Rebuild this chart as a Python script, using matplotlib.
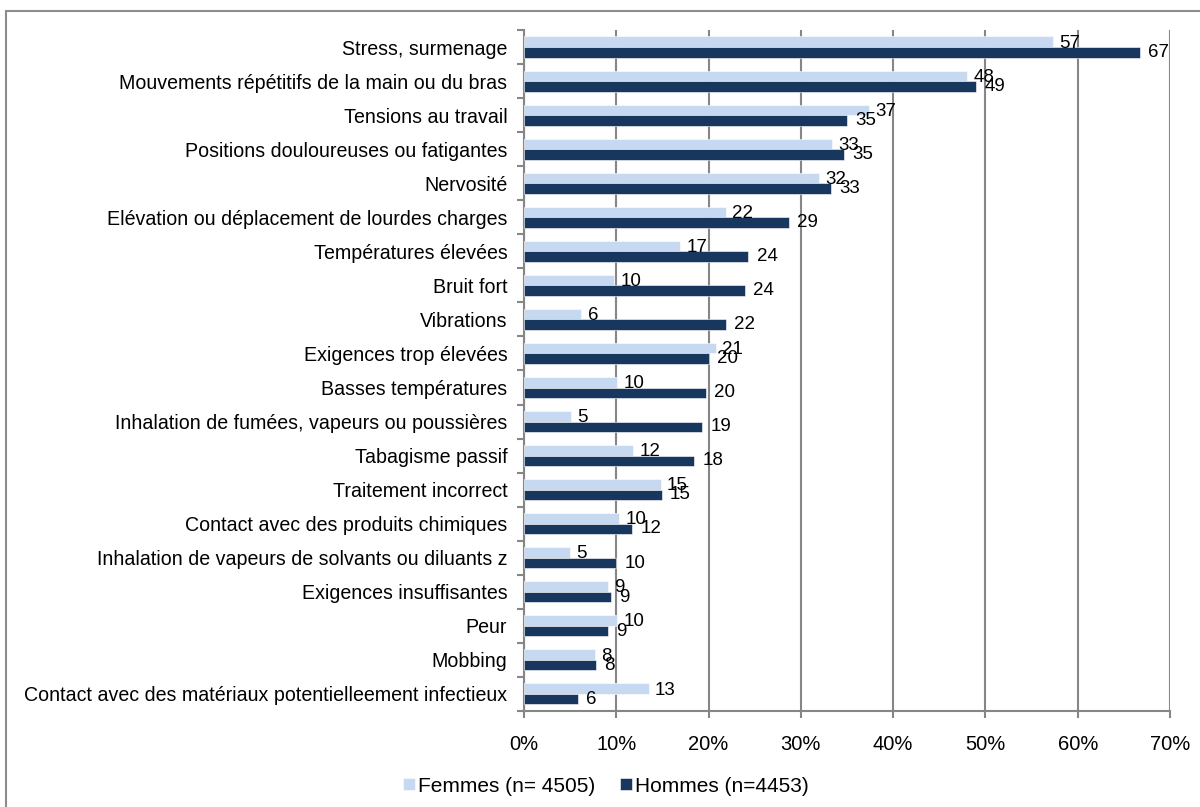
import matplotlib
matplotlib.use("Agg")
import matplotlib.pyplot as plt
import numpy as np
from matplotlib.patches import Rectangle
from matplotlib.ticker import FixedLocator, PercentFormatter

plt.rcParams['font.family'] = ['Liberation Sans', 'DejaVu Sans']

categories = [
    "Stress, surmenage",
    "Mouvements répétitifs de la main ou du bras",
    "Tensions au travail",
    "Positions douloureuses ou fatigantes",
    "Nervosité",
    "Elévation ou déplacement de lourdes charges",
    "Températures élevées",
    "Bruit fort",
    "Vibrations",
    "Exigences trop élevées",
    "Basses températures",
    "Inhalation de fumées, vapeurs ou poussières",
    "Tabagisme passif",
    "Traitement incorrect",
    "Contact avec des produits chimiques",
    "Inhalation de vapeurs de solvants ou diluants z",
    "Exigences insuffisantes",
    "Peur",
    "Mobbing",
    "Contact avec des matériaux potentielleement infectieux",
]
femmes = [57.3, 48.0, 37.4, 33.4, 32.0, 21.9, 16.9, 9.8, 6.2, 20.8,
          10.1, 5.1, 11.8, 14.8, 10.3, 5.0, 9.1, 10.1, 7.7, 13.5]
hommes = [66.7, 49.0, 35.0, 34.7, 33.3, 28.7, 24.3, 23.9, 21.9, 20.0,
          19.7, 19.3, 18.4, 14.9, 11.7, 10.0, 9.4, 9.1, 7.8, 5.8]
femmes_labels = [57, 48, 37, 33, 32, 22, 17, 10, 6, 21, 10, 5, 12, 15, 10, 5, 9, 10, 8, 13]
hommes_labels = [67, 49, 35, 35, 33, 29, 24, 24, 22, 20, 20, 19, 18, 15, 12, 10, 9, 9, 8, 6]
legend_labels = ["Femmes (n= 4505)", "Hommes (n=4453)"]
xticks = [0, 10, 20, 30, 40, 50, 60, 70]

c_light = "#C6D9F1"
c_dark = "#17375E"
c_grid = "#868686"

fig = plt.figure(figsize=(12, 8.07), dpi=100)
ax = fig.add_axes([0.4367, 0.1190, 0.5383, 0.8438])

n = len(categories)
y = np.arange(n)
h = 0.31
bf = ax.barh(y - h / 2, femmes, height=h, color=c_light, edgecolor="white", linewidth=0.4, zorder=3, label=legend_labels[0])
bh = ax.barh(y + h / 2, hommes, height=h, color=c_dark, edgecolor="white", linewidth=0.4, zorder=3, label=legend_labels[1])

for i in range(n):
    ax.annotate(str(femmes_labels[i]), (femmes[i], y[i] - h / 2), xytext=(4.5, -1),
                textcoords="offset points", va="center", ha="left", fontsize=13.5, color="black", zorder=4)
    ax.annotate(str(hommes_labels[i]), (hommes[i], y[i] + h / 2), xytext=(6, 0),
                textcoords="offset points", va="center", ha="left", fontsize=13.5, color="black", zorder=4)

ax.set_ylim(n - 0.5, -0.5)
ax.set_xlim(0, 70)
ax.set_yticks(y)
ax.set_yticklabels(categories, fontsize=14.1)
ax.yaxis.set_minor_locator(FixedLocator(np.arange(-0.5, n, 1.0)))
ax.tick_params(axis="y", which="major", length=0, pad=12)
ax.tick_params(axis="y", which="minor", length=5, width=1.5, color=c_grid)
ax.set_xticks(xticks)
ax.xaxis.set_major_formatter(PercentFormatter(decimals=0))
ax.tick_params(axis="x", which="major", length=5, width=1.5, color=c_grid, labelsize=14.5, pad=12)

ax.grid(axis="x", color=c_grid, linewidth=1.5, zorder=0)
ax.set_axisbelow(True)
for s in ["top", "right"]:
    ax.spines[s].set_visible(False)
for s in ["left", "bottom"]:
    ax.spines[s].set_color(c_grid)
    ax.spines[s].set_linewidth(1.5)

leg = fig.legend(handles=[bf, bh], labels=legend_labels, loc="center", bbox_to_anchor=(0.505, 0.026),
                 ncol=2, frameon=False, fontsize=15, handlelength=0.55, handleheight=0.55,
                 handletextpad=0.15, columnspacing=1.2)

border = Rectangle((6 / 1200, -0.05), 1.1, 1 - 11 / 807 + 0.05, transform=fig.transFigure,
                   fill=False, edgecolor="#8C8C8C", linewidth=1.5, clip_on=False)
fig.patches.append(border)

fig.savefig("out.png", dpi=100)
